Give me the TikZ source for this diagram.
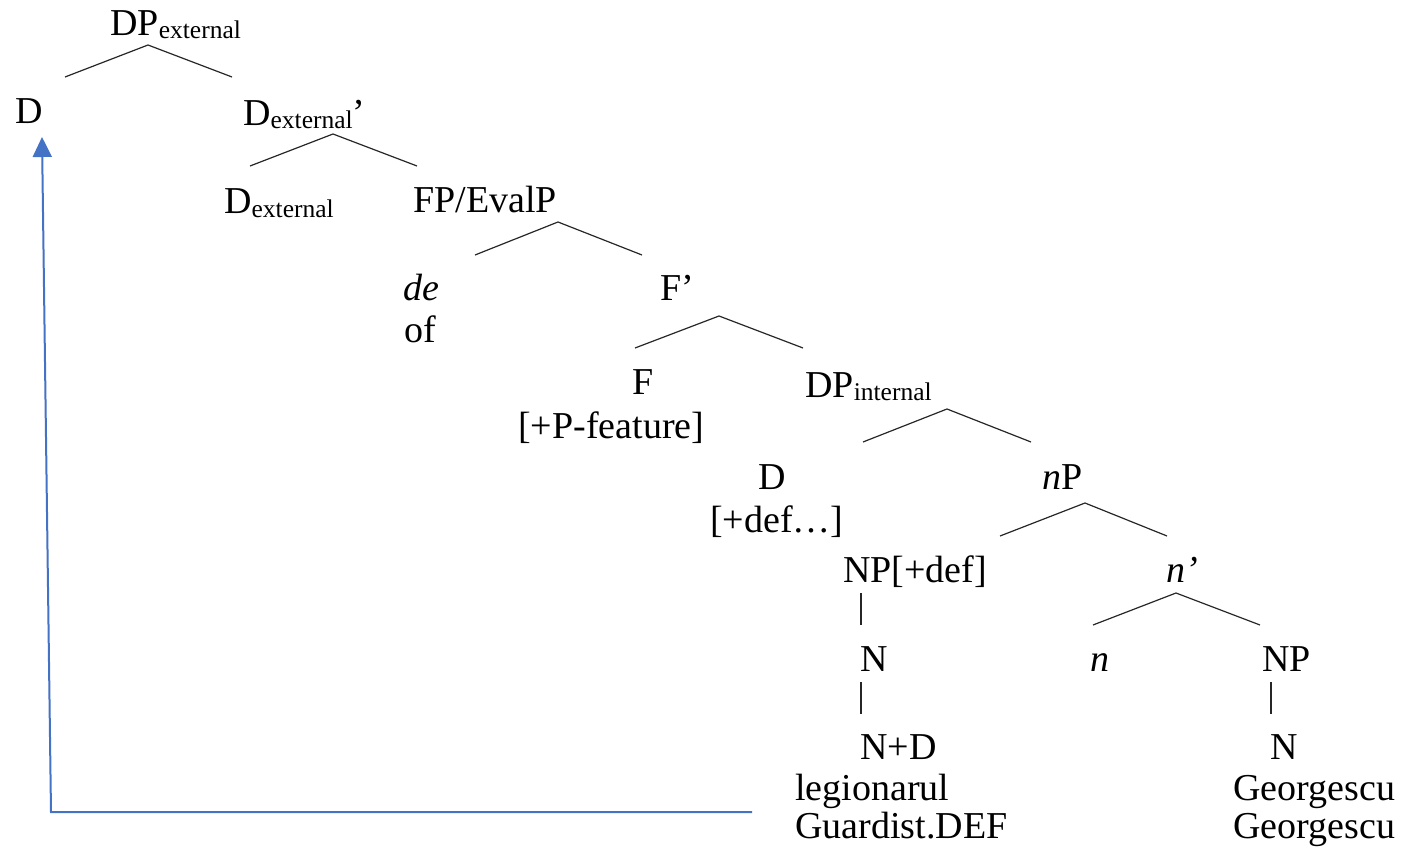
\documentclass[tikz,border=0pt]{standalone}
\usepackage{fontspec}
\setmainfont{Liberation Serif}
\usetikzlibrary{arrows.meta}
\definecolor{moveblue}{RGB}{68,114,196}
\newcommand\lsub[1]{\raisebox{-3pt}{\fontsize{25.5}{30}\selectfont #1}}
\begin{document}
\begin{tikzpicture}[x=1pt,y=-1pt,
  lbl/.style={anchor=base west, inner sep=0pt, yshift=-2pt, font=\fontsize{38}{44}\selectfont},
  branch/.style={line width=1.2pt, draw=black!85},
  mover/.style={draw=moveblue, line width=2pt}]
\useasboundingbox (0,0) rectangle (1401,848);
% labels
\node[lbl] (DPext) at (110,34) {DP\lsub{external}};
\node[lbl] (Dtop) at (15,122) {D};
\node[lbl] (Dextbar) at (243,124) {D\lsub{external}’};
\node[lbl] (Dext) at (224,212) {D\lsub{external}};
\node[lbl] (FP) at (413,210) {FP/EvalP};
\node[lbl] (de) at (403,298) {\textit{de}};
\node[lbl] (of) at (404,340) {of};
\node[lbl] (Fbar) at (660,298) {F’};
\node[lbl] (F) at (632,392) {F};
\node[lbl] (Pfeat) at (518,436) {[+P-feature]};
\node[lbl] (DPint) at (805,395) {DP\lsub{internal}};
\node[lbl] (D2) at (758,487) {D};
\node[lbl] (def) at (710,530) {[+def…]};
\node[lbl] (nP) at (1042,487) {\textit{n}P};
\node[lbl] (NPdef) at (843,580) {NP[+def]};
\node[lbl] (nbar) at (1166,580) {\textit{n’}};
\node[lbl] (N1) at (860,669) {N};
\node[lbl] (nhead) at (1090,669) {\textit{n}};
\node[lbl] (NP2) at (1262,669) {NP};
\node[lbl] (ND) at (860,757) {N+D};
\node[lbl] (leg) at (795,798) {legionarul};
\node[lbl] (guard) at (795,836) {Guardist.DEF};
\node[lbl] (N2) at (1270,757) {N};
\node[lbl] (geo1) at (1233,798) {Georgescu};
\node[lbl] (geo2) at (1233,836) {Georgescu};
% branches
\coordinate (b1l) at (65,77); \coordinate (b1t) at (148,45); \coordinate (b1r) at (232,77);
\coordinate (b2l) at (250,166); \coordinate (b2t) at (333,134); \coordinate (b2r) at (417,166);
\coordinate (b3l) at (475,255); \coordinate (b3t) at (558,222); \coordinate (b3r) at (642,255);
\coordinate (b4l) at (635,348); \coordinate (b4t) at (719,316); \coordinate (b4r) at (803,348);
\coordinate (b5l) at (863,442); \coordinate (b5t) at (947,409); \coordinate (b5r) at (1031,442);
\coordinate (b6l) at (1000,536); \coordinate (b6t) at (1085,503); \coordinate (b6r) at (1167,536);
\coordinate (b7l) at (1093,625); \coordinate (b7t) at (1176,593); \coordinate (b7r) at (1260,625);
\draw[branch] (b1l) -- (b1t) -- (b1r);
\draw[branch] (b2l) -- (b2t) -- (b2r);
\draw[branch] (b3l) -- (b3t) -- (b3r);
\draw[branch] (b4l) -- (b4t) -- (b4r);
\draw[branch] (b5l) -- (b5t) -- (b5r);
\draw[branch] (b6l) -- (b6t) -- (b6r);
\draw[branch] (b7l) -- (b7t) -- (b7r);
\coordinate (v1t) at (861,593); \coordinate (v1b) at (861,625);
\coordinate (v2t) at (861,682); \coordinate (v2b) at (861,714);
\coordinate (v3t) at (1271,682); \coordinate (v3b) at (1271,714);
\draw[branch] (v1t) -- (v1b);
\draw[branch] (v2t) -- (v2b);
\draw[branch] (v3t) -- (v3b);
% movement arrow
\coordinate (mvstart) at (752,812);
\coordinate (mvcorner) at (51,812);
\coordinate (mvtip) at (42,137);
\draw[mover,-{Triangle[width=19pt,length=20pt]}] (mvstart) -- (mvcorner) -- (mvtip);
\end{tikzpicture}
\end{document}
